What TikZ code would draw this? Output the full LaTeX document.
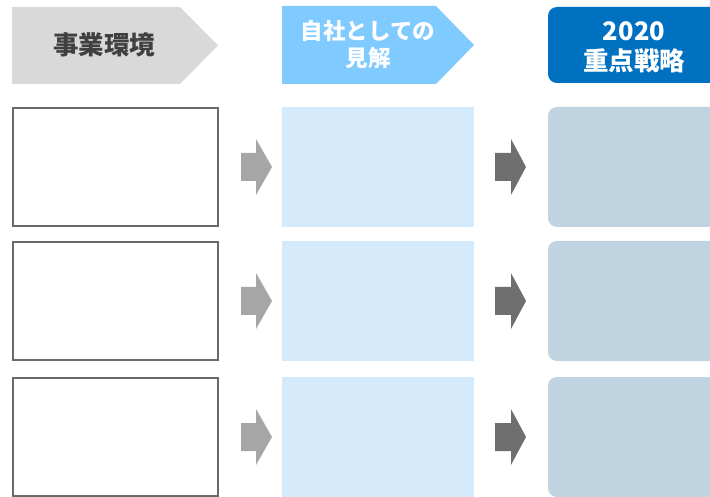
\documentclass[tikz,border=0pt]{standalone}
\usepackage{fontspec}
\newfontfamily\jp{Noto Sans CJK JP}
\definecolor{hdgray}{HTML}{D9D9D9}
\definecolor{hdtext}{HTML}{404040}
\definecolor{hdsky}{HTML}{7FCBFF}
\definecolor{hdblue}{HTML}{0070C0}
\definecolor{midfill}{HTML}{D5EBFC}
\definecolor{rightfill}{HTML}{C0D3E0}
\definecolor{boxline}{HTML}{6A6A6A}
\definecolor{arrlight}{HTML}{A6A6A6}
\definecolor{arrdark}{HTML}{6F6F6F}
\tikzset{
  leftbox/.style={draw=boxline, line width=2.5pt, fill=white, minimum width=205pt, minimum height=118pt, inner sep=0pt},
  midbox/.style={fill=midfill, minimum width=192pt, minimum height=120pt, inner sep=0pt},
  rightbox/.style={fill=rightfill, rounded corners=9pt, minimum width=180pt, minimum height=120pt, inner sep=0pt},
  hdtxt/.style={font=\jp\bfseries, align=center, inner sep=0pt}
}
\begin{document}
\begin{tikzpicture}[x=1pt,y=-1pt]
\clip (0,0) rectangle (710,497);
\fill[white] (0,0) rectangle (710,497);
% headers
\fill[hdgray] (12,7) -- (180,7) -- (218,45.5) -- (180,84) -- (12,84) -- cycle;
\node[hdtxt, text=hdtext, font=\jp\bfseries\fontsize{25.5}{30}\selectfont] (h1) at (104,45) {事業環境};
\fill[hdsky] (282,6) -- (436,6) -- (474,45) -- (436,84) -- (282,84) -- cycle;
\node[hdtxt, text=white, font=\jp\bfseries\fontsize{22.5}{27}\selectfont] (h2) at (368,45) {自社としての\\見解};
\fill[hdblue, rounded corners=9pt] (548,7) rectangle (730,83);
\node[hdtxt, text=white, font=\jp\bfseries\fontsize{25.5}{30}\selectfont] (h3) at (634,47) {2020\\重点戦略};
% rows
\foreach \i/\c in {1/167, 2/301, 3/437} {
  \node[leftbox] (l\i) at (115.5,\c) {};
  \node[midbox] (m\i) at (378,\c) {};
  \node[rightbox] (r\i) at (638,\c) {};
  \fill[arrlight] (241,\c-14) -- (256,\c-14) -- (256,\c-28) -- (272,\c) -- (256,\c+28) -- (256,\c+14) -- (241,\c+14) -- cycle;
  \fill[arrdark] (495,\c-14) -- (511,\c-14) -- (511,\c-28) -- (526,\c) -- (511,\c+28) -- (511,\c+14) -- (495,\c+14) -- cycle;
}
\end{tikzpicture}
\end{document}
